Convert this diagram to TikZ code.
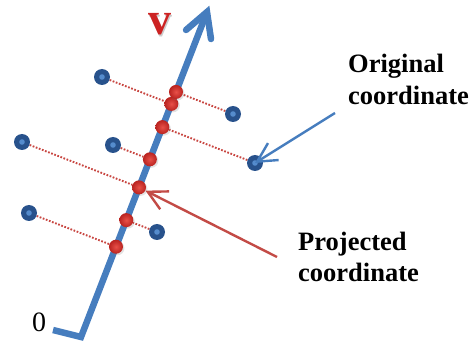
\documentclass[tikz,border=0pt]{standalone}
\usepackage{fontspec}
\setmainfont{Liberation Serif}
\usetikzlibrary{arrows.meta,calc,shadows}
\pgfdeclarelayer{background}
\pgfsetlayers{background,main}
\definecolor{axisblue}{RGB}{70,125,190}
\definecolor{ptblue}{RGB}{40,82,140}
\definecolor{ptblueinner}{RGB}{85,140,205}
\definecolor{ptredin}{RGB}{232,80,72}
\definecolor{ptredout}{RGB}{185,35,32}
\definecolor{dotred}{RGB}{200,70,65}
\definecolor{arrowred}{RGB}{195,75,70}
\definecolor{lblred}{RGB}{205,35,35}
\begin{document}
\begin{tikzpicture}[x=1pt,y=-1pt,
  axisline/.style={draw=axisblue,line width=6.5pt},
  projline/.style={draw=dotred,line width=1.9pt,dash pattern=on 1.7pt off 1.6pt},
  origpt/.style={circle,fill=ptblue,minimum size=16pt,inner sep=0pt,
    path picture={\fill[ptblueinner] (path picture bounding box.center) circle (2.8pt);}},
  projpt/.style={circle,inner color=ptredin,outer color=ptredout,minimum size=14pt,inner sep=0pt,
    drop shadow={opacity=0.22,shadow xshift=1.5pt,shadow yshift=-1.5pt}},
  callout/.style={line width=2.4pt,-{Straight Barb[length=19pt,width=20pt]}},
  lbl/.style={font=\bfseries\fontsize{26.5}{32}\selectfont,anchor=base west,inner sep=0pt}
]
\useasboundingbox (0,0) rectangle (475,345);

% axis
\coordinate (hookend) at (53,330);
\coordinate (origin) at (81,337);
\coordinate (tip) at (207,12);
\coordinate (barbL) at (186,30);
\coordinate (barbR) at (211,39);

% original points
\node[origpt] (p1) at (102,77) {};
\node[origpt] (p2) at (233,114) {};
\node[origpt] (p3) at (22,142) {};
\node[origpt] (p4) at (113,145) {};
\node[origpt] (p5) at (255,163) {};
\node[origpt] (p6) at (29,213) {};
\node[origpt] (p7) at (157,232) {};

% projected points
\foreach \i in {1,...,7}{
  \node[projpt] (q\i) at ($(origin)!(p\i)!(tip)$) {};
}

\begin{pgfonlayer}{background}
  \draw[axisline,line cap=butt,line join=miter] (hookend) -- (origin) -- (tip);
  \draw[axisline,line cap=round,line join=miter] (barbL) -- (tip) -- (barbR);
  \foreach \i in {1,...,7}{
    \draw[projline] (p\i) -- (q\i);
  }
\end{pgfonlayer}

% callouts
\coordinate (origStart) at (335,113);
\coordinate (projStart) at (277,257);
\draw[callout,draw=axisblue] (origStart) -- (p5.center);
\draw[callout,draw=arrowred] (projStart) -- (q3);

% labels
\node[lbl] (orig1) at (348,73) {Original};
\node[lbl] (orig2) at (348,105) {coordinate};
\node[lbl] (proj1) at (298,251) {Projected};
\node[lbl] (proj2) at (298,282) {coordinate};
\node[font=\fontsize{28}{30}\selectfont,anchor=base west,inner sep=0pt] (zero) at (32,331) {0};
\node[font=\bfseries\fontsize{46}{50}\selectfont,text=black!40,anchor=base,inner sep=0pt,opacity=0.5] (vshadow) at (161.2,36.2) {v};
\node[font=\bfseries\fontsize{46}{50}\selectfont,text=lblred,anchor=base,inner sep=0pt] (vlabel) at (160,35) {v};
\end{tikzpicture}
\end{document}
